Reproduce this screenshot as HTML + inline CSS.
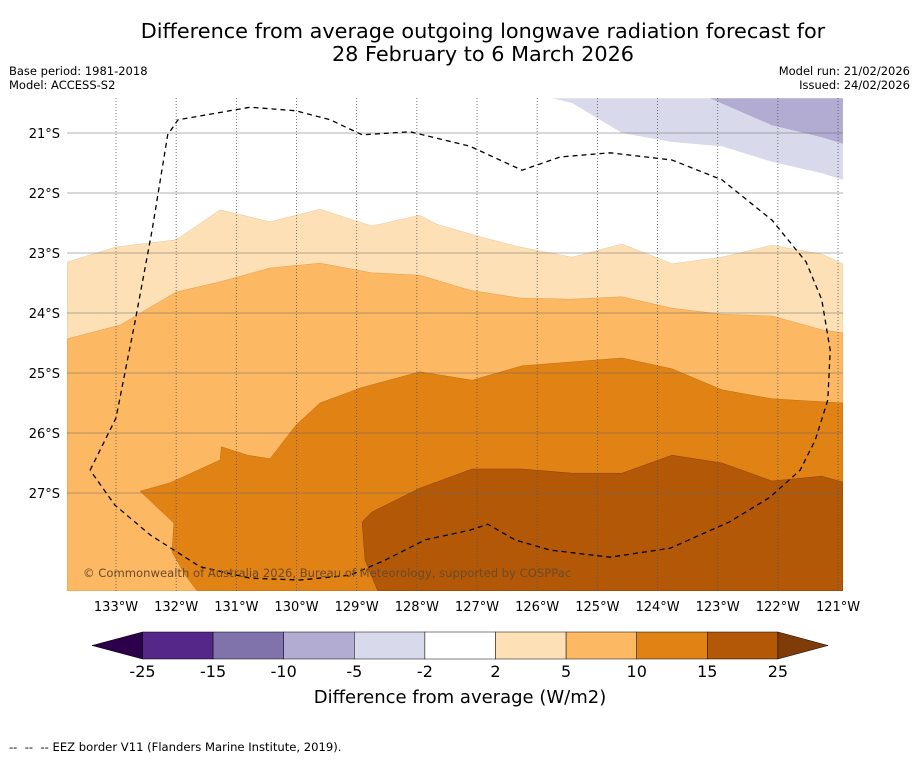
<!DOCTYPE html>
<html><head><meta charset="utf-8"><style>
body{margin:0;background:#fff;font-family:"Liberation Sans","DejaVu Sans",sans-serif;}
svg text{font-family:"DejaVu Sans","Liberation Sans",sans-serif;}
</style></head><body>
<svg id="chart" width="919" height="758" viewBox="0 0 919 758" xmlns="http://www.w3.org/2000/svg">
<rect width="919" height="758" fill="#fff"/>
<text x="483" y="38" font-size="20.8" text-anchor="middle">Difference from average outgoing longwave radiation forecast for</text>
<text x="483" y="61" font-size="20.8" text-anchor="middle">28 February to 6 March 2026</text>
<text x="9" y="75" font-size="11.5">Base period: 1981-2018</text>
<text x="9" y="89" font-size="11.5">Model: ACCESS-S2</text>
<text x="910" y="75" font-size="11.5" text-anchor="end">Model run: 21/02/2026</text>
<text x="910" y="89" font-size="11.5" text-anchor="end">Issued: 24/02/2026</text>
<defs><clipPath id="mapclip"><rect x="67" y="98" width="776" height="493"/></clipPath></defs>
<g id="map" clip-path="url(#mapclip)"></g>
<g id="grid"></g>
<g id="cbar"></g>
<text x="460" y="703" font-size="18" text-anchor="middle">Difference from average (W/m2)</text>
<text x="9" y="751" font-size="11.6" xml:space="preserve">--  --  -- EEZ border V11 (Flanders Marine Institute, 2019).</text>
</svg>
<script>
// data (lon °W, lat °S)
const lonTicks=[133,132,131,130,129,128,127,126,125,124,123,122,121];
const latTicks=[21,22,23,24,25,26,27];
const band2=[[133.81,23.15],[133,22.9],[132,22.78],[131.27,22.28],[130.44,22.48],[129.61,22.27],[128.75,22.55],[127.95,22.37],[127.67,22.52],[126.95,22.73],[126.29,22.9],[125.42,23.07],[124.59,22.85],[123.76,23.18],[122.93,23.07],[122.1,22.87],[121.27,23.02],[120.92,23.18]];
const band5=[[133.81,24.43],[132.93,24.2],[132,23.65],[131.27,23.48],[130.44,23.25],[129.61,23.17],[128.75,23.33],[127.95,23.37],[127.12,23.62],[126.29,23.75],[125.45,23.77],[124.59,23.73],[123.76,23.92],[122.93,24.02],[122.1,24.05],[121.27,24.28],[120.92,24.33]];
const band10=[[132.6,26.97],[132.1,26.83],[131.27,26.45],[131.25,26.23],[130.81,26.37],[130.44,26.43],[130.01,25.87],[129.61,25.5],[128.94,25.25],[127.95,24.98],[127.08,25.12],[126.25,24.88],[124.59,24.75],[123.76,24.93],[122.93,25.28],[122.1,25.43],[120.92,25.5],[120.92,28.63],[131.65,28.63],[131.85,28.37],[132.07,27.98],[132.04,27.5]];
const band15=[[128.91,27.48],[128.75,27.32],[127.95,26.92],[127.08,26.6],[126.25,26.6],[125.42,26.67],[124.59,26.67],[123.76,26.37],[122.93,26.5],[122.1,26.8],[121.27,26.72],[120.92,26.82],[120.92,28.63],[128.65,28.63],[128.86,28.12]];
const bandM2=[[125.75,20.42],[125.42,20.5],[124.59,21],[123.76,21.15],[122.93,21.22],[122.1,21.48],[121.27,21.67],[120.92,21.78],[120.92,20.42]];
const bandM5=[[123.13,20.42],[122.1,20.87],[121.27,21.07],[120.92,21.18],[120.92,20.42]];
const eez=[[133.43,26.62],[133,25.75],[132.68,24.12],[132.4,22.62],[132.14,21.03],[131.97,20.78],[130.77,20.57],[130.01,20.63],[129.44,20.78],[128.91,21.03],[128.11,20.98],[127.12,21.22],[126.25,21.62],[125.62,21.4],[124.79,21.33],[123.76,21.45],[122.93,21.78],[122.1,22.45],[121.53,23.15],[121.27,23.78],[121.13,24.62],[121.17,25.45],[121.38,26.12],[121.63,26.62],[122.13,27.07],[122.8,27.48],[123.79,27.92],[124.79,28.07],[125.79,27.95],[126.37,27.78],[126.82,27.52],[127.12,27.62],[127.86,27.78],[128.53,28.12],[129.11,28.37],[129.94,28.45],[130.77,28.42],[131.6,28.23],[132.43,27.7],[133.02,27.2],[133.43,26.62]];
const cbBounds=[-25,-15,-10,-5,-2,2,5,10,15,25];
const cbColors=['#542788','#8073ac','#b2abd2','#d8daeb','#ffffff','#fee0b6','#fdb863','#e08214','#b35806'];

const NS='http://www.w3.org/2000/svg';
const X=lon=>116+(133-lon)*60.17;
const Y=lat=>133+(lat-21)*60;
function mk(tag,attrs,parent){const e=document.createElementNS(NS,tag);for(const k in attrs)e.setAttribute(k,attrs[k]);parent.appendChild(e);return e;}
const map=document.getElementById('map');
const pts=a=>a.map(p=>X(p[0]).toFixed(1)+','+Y(p[1]).toFixed(1)).join(' ');
function below(line){return line.concat([[120.92,28.63],[133.81,28.63]]);}
let p;
p=mk('polygon',{points:pts(below(band2)),fill:'#fee0b6',stroke:'#e8c89c','stroke-width':0.5},map);

p=mk('polygon',{points:pts(below(band5)),fill:'#fdb863',stroke:'#e0a050','stroke-width':0.5},map);

p=mk('polygon',{points:pts(band10),fill:'#e08214',stroke:'#c07010','stroke-width':0.5},map);

p=mk('polygon',{points:pts(band15),fill:'#b35806',stroke:'#904004','stroke-width':0.5},map);

p=mk('polygon',{points:pts(bandM2),fill:'#d8daeb'},map);

p=mk('polygon',{points:pts(bandM5),fill:'#b2abd2'},map);

const grid=document.getElementById('grid');
lonTicks.forEach(l=>{
  const g=mk('line',{x1:X(l),x2:X(l),y1:98,y2:591,stroke:'#555','stroke-width':0.8,'stroke-dasharray':'1,2'},grid);
  
  const t=mk('text',{x:X(l),y:611,'font-size':13,'text-anchor':'middle'},grid);t.textContent=l+'°W';
  
});
latTicks.forEach(l=>{
  const g=mk('line',{x1:67,x2:843,y1:Y(l),y2:Y(l),stroke:'#666','stroke-width':0.5},grid);
  
  const t=mk('text',{x:60,y:Y(l)+5,'font-size':13,'text-anchor':'end'},grid);t.textContent=l+'°S';
  
});
p=mk('polyline',{points:pts(eez),fill:'none',stroke:'#000','stroke-width':1.3,'stroke-dasharray':'5,4'},grid);

const cr=mk('text',{x:83,y:577,'font-size':11.6,fill:'#6b4a2a'},grid);cr.textContent='© Commonwealth of Australia 2026, Bureau of Meteorology, supported by COSPPac';

const cb=document.getElementById('cbar');
const cx0=142.5,cw=70.6,cy=632,ch=27;
cbColors.forEach((c,i)=>{
  const r=mk('rect',{x:cx0+i*cw,y:cy,width:cw,height:ch,fill:c,stroke:'#000','stroke-width':0.5},cb);
  
});
const xe=cx0+cbColors.length*cw;
p=mk('polygon',{points:`${cx0},${cy} 92,${cy+ch/2} ${cx0},${cy+ch}`,fill:'#2d004b',stroke:'#000','stroke-width':0.5},cb);

p=mk('polygon',{points:`${xe},${cy} 828,${cy+ch/2} ${xe},${cy+ch}`,fill:'#7f3b08',stroke:'#000','stroke-width':0.5},cb);

cbBounds.forEach((b,i)=>{
  const t=mk('text',{x:cx0+i*cw,y:677,'font-size':16,'text-anchor':'middle'},cb);t.textContent=b;
  
});
</script>
</body></html>
